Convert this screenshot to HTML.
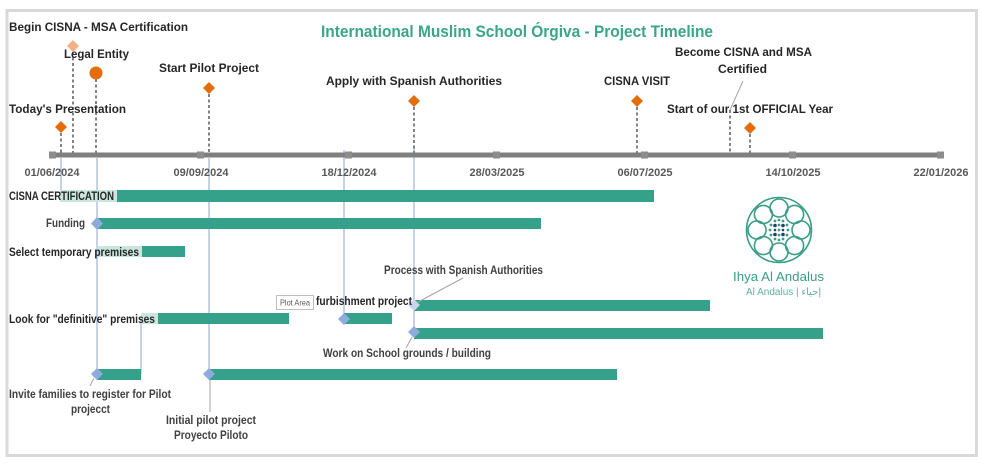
<!DOCTYPE html>
<html><head><meta charset="utf-8"><style>
html,body{margin:0;padding:0;background:#fff;}
svg{display:block;}
text{font-family:"Liberation Sans",Arial,sans-serif;}
.b{font-weight:bold;font-size:12px;fill:#262626;}
.g{font-weight:bold;font-size:12px;fill:#404040;}
.ax{font-weight:bold;font-size:11px;fill:#595959;}
</style></head><body>
<svg width="982" height="466" viewBox="0 0 982 466" xmlns="http://www.w3.org/2000/svg">
<rect x="0" y="0" width="982" height="466" fill="#fff"/>
<rect x="7" y="10.5" width="969.5" height="445" fill="#fff" stroke="#d9d9d9" stroke-width="3"/>

<!-- title -->
<text x="321" y="37" font-size="17" font-weight="bold" fill="#3aa58a" textLength="392" lengthAdjust="spacingAndGlyphs">International Muslim School Órgiva - Project Timeline</text>

<!-- blue vertical lines -->
<g stroke="#8fa5cf" stroke-width="1">
<line x1="61" y1="158" x2="61" y2="197"/>
<line x1="97" y1="158" x2="97" y2="374"/>
<line x1="209" y1="158" x2="209" y2="374"/>
<line x1="141" y1="318" x2="141" y2="374"/>
<line x1="344" y1="150" x2="344" y2="319"/>
<line x1="414" y1="148" x2="414" y2="332"/>
</g>

<!-- dashed milestone lines -->
<g stroke="#404040" stroke-width="1.3" stroke-dasharray="3,2.5">
<line x1="61" y1="133" x2="61" y2="155"/>
<line x1="73" y1="52" x2="73" y2="155"/>
<line x1="96" y1="79" x2="96" y2="155"/>
<line x1="209" y1="94" x2="209" y2="155"/>
<line x1="414" y1="107" x2="414" y2="155"/>
<line x1="637" y1="107" x2="637" y2="155"/>
<line x1="730" y1="110" x2="730" y2="155"/>
<line x1="750" y1="134" x2="750" y2="155"/>
</g>
<line x1="743" y1="81" x2="730" y2="110" stroke="#a6a6a6" stroke-width="1"/>

<!-- axis -->
<line x1="52" y1="155" x2="942" y2="155" stroke="#7f7f7f" stroke-width="5"/>
<g fill="#8c8c8c">
<rect x="49" y="151.5" width="7" height="7"/>
<rect x="197" y="151.5" width="7" height="7"/>
<rect x="345" y="151.5" width="7" height="7"/>
<rect x="493" y="151.5" width="7" height="7"/>
<rect x="641" y="151.5" width="7" height="7"/>
<rect x="789" y="151.5" width="7" height="7"/>
<rect x="937" y="151.5" width="7" height="7"/>
</g>
<g class="ax" text-anchor="middle">
<text x="52" y="176">01/06/2024</text>
<text x="201" y="176">09/09/2024</text>
<text x="349" y="176">18/12/2024</text>
<text x="497" y="176">28/03/2025</text>
<text x="645" y="176">06/07/2025</text>
<text x="793" y="176">14/10/2025</text>
<text x="941" y="176">22/01/2026</text>
</g>

<!-- milestone markers -->
<g fill="#e46c0a">
<polygon points="61,121 67,127 61,133 55,127"/>
<circle cx="96" cy="73" r="6.5"/>
<polygon points="209,82 215,88 209,94 203,88"/>
<polygon points="414,95 420,101 414,107 408,101"/>
<polygon points="637,95 643,101 637,107 631,101"/>
<polygon points="750,122 756,128 750,134 744,128"/>
</g>
<polygon points="73,40 79,46 73,52 67,46" fill="#f4b183"/>

<!-- milestone labels -->
<text class="b" x="9" y="31" textLength="179" lengthAdjust="spacingAndGlyphs">Begin CISNA - MSA Certification</text>
<text class="b" x="64" y="58" textLength="65" lengthAdjust="spacingAndGlyphs">Legal Entity</text>
<text class="b" x="9" y="113" textLength="117" lengthAdjust="spacingAndGlyphs">Today's Presentation</text>
<text class="b" x="159" y="72" textLength="100" lengthAdjust="spacingAndGlyphs">Start Pilot Project</text>
<text class="b" x="326" y="85" textLength="176" lengthAdjust="spacingAndGlyphs">Apply with Spanish Authorities</text>
<text class="b" x="604" y="85" textLength="66" lengthAdjust="spacingAndGlyphs">CISNA VISIT</text>
<text class="b" x="675" y="56" textLength="137" lengthAdjust="spacingAndGlyphs">Become CISNA and MSA</text>
<text class="b" x="718" y="73" textLength="49" lengthAdjust="spacingAndGlyphs">Certified</text>
<text class="b" x="667" y="113" textLength="166" lengthAdjust="spacingAndGlyphs">Start of our 1st OFFICIAL Year</text>

<!-- bars -->
<g fill="#c9e7de">
<rect x="60" y="190" width="57" height="12"/>
<rect x="97" y="246" width="45" height="11"/>
<rect x="141" y="313" width="17" height="11"/>
</g>
<g fill="#36a18b">
<rect x="117" y="190" width="537" height="12"/>
<rect x="97" y="218" width="444" height="11"/>
<rect x="142" y="246" width="43" height="11"/>
<rect x="158" y="313" width="131" height="11"/>
<rect x="344" y="313" width="48" height="11"/>
<rect x="414" y="300" width="296" height="11"/>
<rect x="414" y="328" width="409" height="11"/>
<rect x="97" y="369" width="44" height="11"/>
<rect x="209" y="369" width="408" height="11"/>
</g>
<g fill="#8faadc">
<polygon points="97,217 103,223.5 97,230 91,223.5"/>
<polygon points="344,313 350,319 344,325 338,319"/>
<polygon points="414,326 420,332 414,338 408,332"/>
<polygon points="97,368 103,374 97,380 91,374"/>
<polygon points="209,368 215,374 209,380 203,374"/>
</g>
<polygon points="414,299 420,305 414,311 408,305" fill="#c7d4ec"/>

<!-- leader lines -->
<g stroke="#a6a6a6" stroke-width="1">
<line x1="94" y1="378" x2="90" y2="386"/>
<line x1="210" y1="380" x2="210" y2="412"/>
<line x1="412" y1="337" x2="406" y2="348"/>
<line x1="463" y1="278" x2="418" y2="302"/>
</g>

<!-- bar labels -->
<text class="b" x="9" y="200" textLength="105" lengthAdjust="spacingAndGlyphs">CISNA CERTIFICATION</text>
<text class="g" x="46" y="227" textLength="39" lengthAdjust="spacingAndGlyphs">Funding</text>
<text class="b" x="9" y="256" textLength="130" lengthAdjust="spacingAndGlyphs">Select temporary premises</text>
<text class="b" x="9" y="323" textLength="146" lengthAdjust="spacingAndGlyphs">Look for "definitive" premises</text>
<text class="b" x="316" y="305" textLength="96" lengthAdjust="spacingAndGlyphs">furbishment project</text>
<rect x="276.5" y="295.5" width="37" height="14" fill="#fff" stroke="#bfbfbf" stroke-width="1"/>
<text x="280" y="305.5" font-size="8" fill="#595959" textLength="30" lengthAdjust="spacingAndGlyphs">Plot Area</text>
<text class="g" x="384" y="274" textLength="159" lengthAdjust="spacingAndGlyphs">Process with Spanish Authorities</text>
<text class="g" x="323" y="357" textLength="168" lengthAdjust="spacingAndGlyphs">Work on School grounds / building</text>
<text class="g" x="9" y="398" textLength="162" lengthAdjust="spacingAndGlyphs">Invite families to register for Pilot</text>
<text class="g" x="71" y="413" textLength="39" lengthAdjust="spacingAndGlyphs">projecct</text>
<text class="g" x="166" y="424" textLength="90" lengthAdjust="spacingAndGlyphs">Initial pilot project</text>
<text class="g" x="174" y="439" textLength="74" lengthAdjust="spacingAndGlyphs">Proyecto Piloto</text>

<!-- logo -->
<g fill="none" stroke="#3a9d88" stroke-width="1.6">
<circle cx="779" cy="230" r="32.5"/>
<circle cx="801" cy="230" r="9"/>
<circle cx="794.6" cy="245.6" r="9"/>
<circle cx="779" cy="252" r="9"/>
<circle cx="763.4" cy="245.6" r="9"/>
<circle cx="757" cy="230" r="9"/>
<circle cx="763.4" cy="214.4" r="9"/>
<circle cx="779" cy="208" r="9"/>
<circle cx="794.6" cy="214.4" r="9"/>
</g>
<g fill="#3a9d88">
<circle cx="775" cy="221" r="1.4"/><circle cx="779" cy="220" r="1.4"/><circle cx="783" cy="221" r="1.4"/>
<circle cx="771" cy="225" r="1.4"/><circle cx="779" cy="225" r="1.4"/><circle cx="787" cy="225" r="1.4"/>
<circle cx="770" cy="230" r="1.4"/><circle cx="788" cy="230" r="1.4"/><circle cx="779" cy="230" r="1.4"/>
<circle cx="771" cy="235" r="1.4"/><circle cx="779" cy="235" r="1.4"/><circle cx="787" cy="235" r="1.4"/>
<circle cx="775" cy="239" r="1.4"/><circle cx="779" cy="240" r="1.4"/><circle cx="783" cy="239" r="1.4"/>
</g>
<g fill="#2b3a6b">
<circle cx="775" cy="225.5" r="1.8"/><circle cx="783" cy="225.5" r="1.8"/>
<circle cx="775" cy="234.5" r="1.8"/><circle cx="783" cy="234.5" r="1.8"/>
<circle cx="775" cy="230" r="1.3"/><circle cx="783" cy="230" r="1.3"/>
</g>
<text x="733" y="281" font-size="13" fill="#3a9d88" textLength="91" lengthAdjust="spacingAndGlyphs">Ihya Al Andalus</text>
<text x="746" y="295" font-size="10" fill="#5fb09e" font-family="'Liberation Sans','DejaVu Sans',sans-serif">Al Andalus | إحياء</text>
</svg>
</body></html>
